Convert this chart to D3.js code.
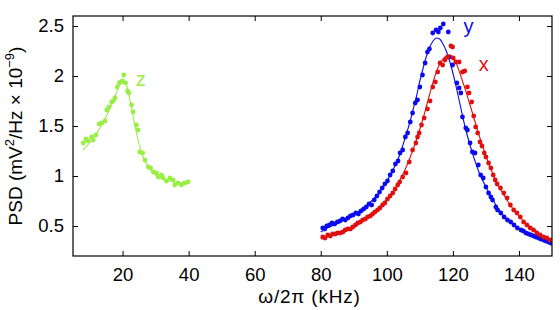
<!DOCTYPE html>
<html>
<head>
<meta charset="utf-8">
<script src="https://cdn.jsdelivr.net/npm/d3@7"></script>
<style>
  body { margin: 0; background: #fff; }
</style>
</head>
<body>
<svg width="560" height="310" font-family="Liberation Sans, Arial, sans-serif"></svg>
<script>
const svg = d3.select('svg');
const width = +svg.attr('width');
const height = +svg.attr('height');

// measured points, z axis (low frequency mode)
const zFreq = [8.1, 8.9, 9.6, 10.6, 11.1, 11.9, 12.9, 13.7, 14.7, 15.2, 15.9, 16.7, 17.2, 17.7, 18.4, 19.0, 19.4, 20.0, 20.4, 20.9, 21.5, 21.9, 22.7, 23.2, 24.2, 24.7, 25.2, 26.1, 26.8, 27.8, 28.5, 29.3, 30.3, 30.8, 31.8, 32.3, 33.3, 34.3, 35.3, 35.8, 36.8, 37.8, 38.8, 39.8];
const zPsd = [1.33, 1.37, 1.35, 1.39, 1.36, 1.41, 1.52, 1.53, 1.55, 1.66, 1.69, 1.74, 1.75, 1.78, 1.89, 1.93, 1.94, 1.95, 2.01, 1.93, 1.85, 1.83, 1.71, 1.64, 1.51, 1.46, 1.24, 1.23, 1.16, 1.09, 1.08, 1.04, 1.03, 0.99, 1.01, 0.98, 0.95, 0.98, 0.96, 0.91, 0.93, 0.91, 0.93, 0.94];
const zFitFreq = [8, 10, 12, 14, 16, 18, 19, 20, 21, 22, 24, 26, 28, 30, 32, 34, 36, 38, 40];
const zFitPsd = [1.26, 1.33, 1.42, 1.53, 1.66, 1.82, 1.91, 1.96, 1.93, 1.80, 1.46, 1.21, 1.08, 1.01, 0.97, 0.95, 0.94, 0.93, 0.93];

// y axis
const yFreq = [80.6, 81.2, 81.8, 82.6, 83.4, 84.2, 85.0, 85.8, 86.6, 87.4, 88.2, 89.0, 89.8, 90.6, 91.4, 92.2, 93.0, 93.8, 94.6, 95.4, 96.2, 97.0, 97.8, 98.6, 99.4, 100.2, 101.0, 101.8, 102.6, 103.4, 104.0, 104.8, 105.6, 106.3, 107.1, 107.8, 108.6, 109.3, 110.0, 110.8, 111.6, 112.3, 112.9, 113.9, 114.9, 115.6, 116.2, 117.1, 118.6, 118.9, 119.9, 121.2, 121.9, 122.4, 122.9, 123.9, 124.4, 125.2, 125.9, 126.7, 127.7, 128.4, 129.2, 130.0, 130.8, 131.5, 132.0, 133.0, 133.5, 134.5, 135.5, 136.5, 137.5, 138.5, 139.5, 140.6, 141.3, 142.1, 142.9, 143.6, 144.4, 145.1, 145.9, 146.6, 147.4, 148.1, 148.9, 149.6];
const yPsd = [0.48, 0.47, 0.50, 0.51, 0.53, 0.52, 0.54, 0.55, 0.57, 0.56, 0.58, 0.60, 0.61, 0.63, 0.62, 0.65, 0.67, 0.69, 0.72, 0.71, 0.76, 0.80, 0.84, 0.88, 0.92, 0.95, 1.01, 1.05, 1.12, 1.15, 1.23, 1.26, 1.39, 1.43, 1.54, 1.63, 1.73, 1.76, 1.89, 2.01, 2.13, 2.24, 2.27, 2.43, 2.46, 2.44, 2.48, 2.52, 2.44, 2.19, 2.11, 1.93, 1.88, 1.83, 1.59, 1.48, 1.46, 1.33, 1.24, 1.23, 1.11, 1.01, 0.98, 0.89, 0.83, 0.79, 0.76, 0.69, 0.66, 0.63, 0.59, 0.56, 0.54, 0.51, 0.48, 0.46, 0.45, 0.43, 0.42, 0.41, 0.40, 0.39, 0.38, 0.37, 0.36, 0.35, 0.34, 0.33];
const yFitFreq = [80, 82, 84, 86, 88, 90, 92, 94, 96, 98, 100, 102, 104, 106, 107, 108, 109, 110, 111, 112, 113, 114, 115, 116, 117, 118, 119, 120, 121, 122, 123, 124, 125, 126, 127, 128, 130, 132, 134, 136, 138, 140, 142, 144, 146, 148, 150];
const yFitPsd = [0.44, 0.48, 0.51, 0.54, 0.58, 0.62, 0.66, 0.71, 0.77, 0.85, 0.95, 1.07, 1.22, 1.43, 1.54, 1.67, 1.80, 1.95, 2.08, 2.20, 2.29, 2.35, 2.38, 2.37, 2.32, 2.25, 2.15, 2.03, 1.89, 1.74, 1.59, 1.45, 1.33, 1.22, 1.12, 1.03, 0.89, 0.77, 0.66, 0.58, 0.52, 0.47, 0.43, 0.40, 0.37, 0.35, 0.33];

// x axis
const xFreq = [80.6, 81.3, 82.1, 82.9, 83.6, 84.4, 85.1, 85.9, 86.7, 87.4, 88.2, 89.0, 89.7, 90.5, 91.2, 92.0, 92.7, 93.5, 94.2, 95.0, 95.7, 96.4, 97.2, 97.9, 98.7, 99.4, 100.2, 101.0, 101.8, 102.5, 103.3, 103.9, 104.8, 105.8, 106.8, 107.8, 108.8, 109.3, 109.8, 110.5, 111.3, 112.3, 113.1, 113.9, 114.7, 115.4, 116.1, 116.9, 117.6, 118.4, 119.4, 119.9, 120.1, 120.9, 121.9, 122.9, 123.6, 124.4, 124.9, 125.7, 126.3, 126.9, 127.5, 128.2, 128.8, 129.5, 130.0, 130.8, 131.5, 132.2, 132.8, 133.4, 134.4, 135.4, 136.4, 137.4, 138.4, 139.4, 140.4, 141.4, 142.4, 143.4, 144.4, 145.4, 146.4, 147.4, 148.4, 149.4];
const xPsd = [0.39, 0.38, 0.41, 0.40, 0.42, 0.42, 0.43, 0.43, 0.44, 0.46, 0.47, 0.47, 0.49, 0.51, 0.53, 0.54, 0.56, 0.57, 0.59, 0.60, 0.62, 0.64, 0.66, 0.68, 0.71, 0.73, 0.77, 0.80, 0.83, 0.87, 0.91, 0.94, 0.99, 1.03, 1.14, 1.26, 1.33, 1.39, 1.43, 1.51, 1.58, 1.67, 1.75, 1.89, 1.94, 2.04, 2.13, 2.11, 2.16, 2.19, 2.30, 2.29, 2.18, 2.14, 2.14, 2.04, 2.05, 1.89, 1.83, 1.74, 1.60, 1.49, 1.43, 1.34, 1.30, 1.23, 1.19, 1.13, 1.08, 1.01, 0.96, 0.92, 0.88, 0.83, 0.78, 0.71, 0.66, 0.63, 0.59, 0.54, 0.51, 0.48, 0.46, 0.43, 0.41, 0.39, 0.38, 0.36];
const xFitFreq = [80, 82, 84, 86, 88, 90, 92, 94, 96, 98, 100, 102, 104, 106, 108, 110, 111, 112, 113, 114, 115, 116, 117, 118, 119, 120, 121, 122, 123, 124, 125, 126, 127, 128, 129, 130, 132, 134, 136, 138, 140, 142, 144, 146, 148, 150];
const xFitPsd = [0.37, 0.39, 0.41, 0.43, 0.46, 0.49, 0.53, 0.58, 0.63, 0.69, 0.77, 0.85, 0.96, 1.10, 1.27, 1.47, 1.58, 1.70, 1.82, 1.94, 2.04, 2.12, 2.17, 2.20, 2.21, 2.19, 2.13, 2.04, 1.94, 1.84, 1.73, 1.62, 1.51, 1.40, 1.30, 1.20, 1.03, 0.89, 0.78, 0.68, 0.60, 0.53, 0.48, 0.43, 0.39, 0.36];

const xTicks = [20, 40, 60, 80, 100, 120, 140];
const yTicks = [0.5, 1, 1.5, 2, 2.5];

const series = [
    { name: 'z', color: '#99ee44', freq: zFreq, psd: zPsd, fitFreq: zFitFreq, fitPsd: zFitPsd, label: [24.0, 1.90] },
    { name: 'y', color: '#0a0af0', freq: yFreq, psd: yPsd, fitFreq: yFitFreq, fitPsd: yFitPsd, label: [123.2, 2.43] },
    { name: 'x', color: '#e01010', freq: xFreq, psd: xPsd, fitFreq: xFitFreq, fitPsd: xFitPsd, label: [127.8, 2.055] }
];

const margin = { top: 16, right: 8, bottom: 54, left: 73 };
const innerWidth = width - margin.left - margin.right;
const innerHeight = height - margin.top - margin.bottom;

const xScale = d3.scaleLinear().domain([5, 150]).range([0, innerWidth]);
const yScale = d3.scaleLinear().domain([0.2, 2.6]).range([innerHeight, 0]);

const g = svg.append('g')
    .attr('transform', `translate(${margin.left},${margin.top})`);

// clip so the curves stay inside the box
g.append('clipPath').attr('id', 'plot-clip')
  .append('rect').attr('width', innerWidth).attr('height', innerHeight);

const plot = g.append('g').attr('clip-path', 'url(#plot-clip)');

const line = d3.line()
    .x(d => xScale(d[0]))
    .y(d => yScale(d[1]))
    .curve(d3.curveMonotoneX);

series.forEach(s => {
    const pts = s.freq.map((f, i) => [f, s.psd[i]]);
    const fit = s.fitFreq.map((f, i) => [f, s.fitPsd[i]]);

    plot.append('path')
        .datum(fit)
        .attr('fill', 'none')
        .attr('stroke', s.color)
        .attr('stroke-width', 1.1)
        .attr('d', line);

    plot.selectAll(null).data(pts)
      .enter().append('circle')
        .attr('cx', d => xScale(d[0]))
        .attr('cy', d => yScale(d[1]))
        .attr('r', 2.4)
        .attr('fill', s.color);

    g.append('text')
        .attr('x', xScale(s.label[0]))
        .attr('y', yScale(s.label[1]))
        .attr('fill', s.color)
        .attr('font-size', 20)
        .text(s.name);
});

// axes, matlab style: ticks inside on all four sides
const tickLen = 5;
const xAxisB = d3.axisBottom(xScale).tickValues(xTicks).tickSize(-tickLen).tickPadding(12).tickFormat(d3.format('d'));
const xAxisT = d3.axisTop(xScale).tickValues(xTicks).tickSize(-tickLen);
const yAxisL = d3.axisLeft(yScale).tickValues(yTicks).tickSize(-tickLen).tickPadding(9).tickFormat(d => d);
const yAxisR = d3.axisRight(yScale).tickValues(yTicks).tickSize(-tickLen);

const styleAxis = sel => {
    sel.attr('font-family', null).attr('font-size', 18.5);
    sel.selectAll('.domain').remove();
    sel.selectAll('line').attr('stroke', '#000').attr('stroke-width', 1);
    sel.selectAll('text').attr('fill', '#000');
};
const noLabels = sel => sel.selectAll('text').remove();

g.append('g').attr('transform', `translate(0,${innerHeight})`).call(xAxisB).call(styleAxis);
g.append('g').call(xAxisT).call(styleAxis).call(noLabels);
g.append('g').call(yAxisL).call(styleAxis);
g.append('g').attr('transform', `translate(${innerWidth},0)`).call(yAxisR).call(styleAxis).call(noLabels);

g.append('rect')
    .attr('width', innerWidth)
    .attr('height', innerHeight)
    .attr('fill', 'none')
    .attr('stroke', '#000')
    .attr('stroke-width', 1.2);

// axis labels
g.append('text')
    .attr('x', innerWidth / 2 - 3)
    .attr('y', innerHeight + 47)
    .attr('text-anchor', 'middle')
    .attr('font-size', 19)
    .attr('letter-spacing', 0.8)
    .text('ω/2π (kHz)');

const yLab = g.append('text')
    .attr('transform', `translate(-51,${innerHeight / 2}) rotate(-90)`)
    .attr('text-anchor', 'middle')
    .attr('font-size', 19);
yLab.append('tspan').text('PSD (mV');
yLab.append('tspan').attr('dy', -8).attr('font-size', 13).text('2');
yLab.append('tspan').attr('dy', 8).text('/Hz × 10');
yLab.append('tspan').attr('dy', -8).attr('font-size', 13).text('−9');
yLab.append('tspan').attr('dy', 8).text(')');
</script>
</body>
</html>
